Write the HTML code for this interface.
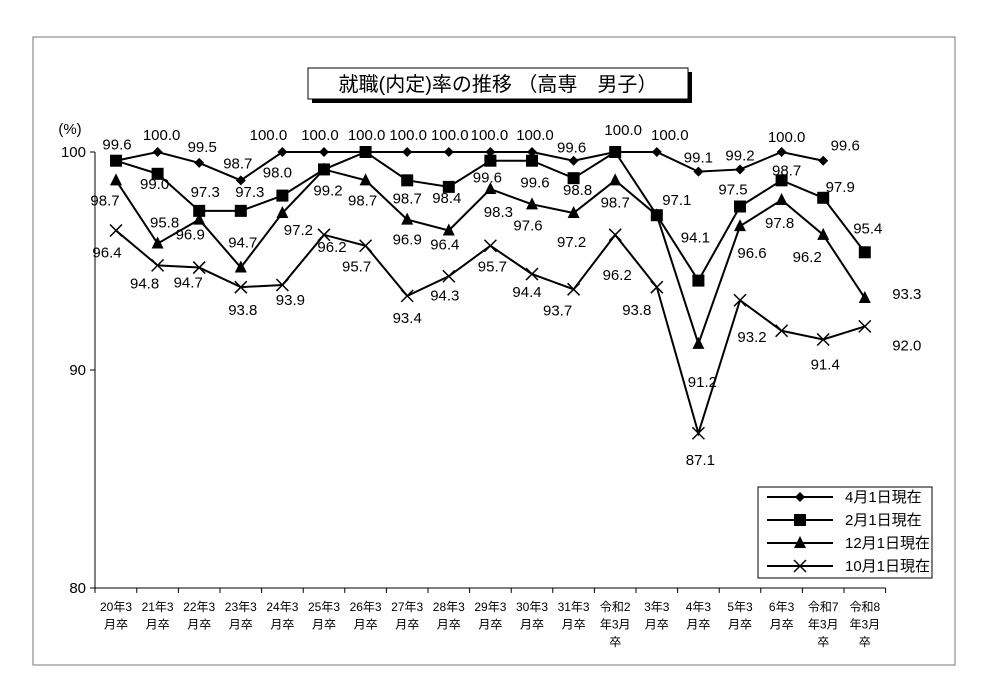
<!DOCTYPE html>
<html><head><meta charset="utf-8"><style>
body{margin:0;background:#fff;}
svg{display:block;font-family:"Liberation Sans","Noto Sans CJK JP",sans-serif;}
</style></head><body>
<svg width="986" height="691" viewBox="0 0 986 691" id="chart">
<rect x="33" y="37" width="922" height="628" fill="#fff" stroke="#777" stroke-width="1"/>
<rect x="312" y="72" width="380" height="31" fill="#000"/>
<rect x="308" y="68" width="380" height="31" fill="#fff" stroke="#000" stroke-width="1"/>
<text x="498" y="91" font-size="20" text-anchor="middle">就職(内定)率の推移 （高専　男子）</text>
<text x="70" y="134" font-size="15" text-anchor="middle">(%)</text>
<g id="axes"></g><g id="series"></g><g id="labels"></g>
<g>
<rect x="758" y="487" width="174" height="91" fill="#fff" stroke="#000"/>
<g id="legend"></g>
</g>
</svg>
<script>
const categories=[["20年3","月卒"],["21年3","月卒"],["22年3","月卒"],["23年3","月卒"],["24年3","月卒"],["25年3","月卒"],["26年3","月卒"],["27年3","月卒"],["28年3","月卒"],["29年3","月卒"],["30年3","月卒"],["31年3","月卒"],["令和2","年3月","卒"],["3年3","月卒"],["4年3","月卒"],["5年3","月卒"],["6年3","月卒"],["令和7","年3月","卒"],["令和8","年3月","卒"]];
const seriesNames=["4月1日現在","2月1日現在","12月1日現在","10月1日現在"];
const apr=[99.6,100.0,99.5,98.7,100.0,100.0,100.0,100.0,100.0,100.0,100.0,99.6,100.0,100.0,99.1,99.2,100.0,99.6];
const feb=[99.6,99.0,97.3,97.3,98.0,99.2,100.0,98.7,98.4,99.6,99.6,98.8,100.0,97.1,94.1,97.5,98.7,97.9,95.4];
const dec=[98.7,95.8,96.9,94.7,97.2,99.2,98.7,96.9,96.4,98.3,97.6,97.2,98.7,97.1,91.2,96.6,97.8,96.2,93.3];
const oct=[96.4,94.8,94.7,93.8,93.9,96.2,95.7,93.4,94.3,95.7,94.4,93.7,96.2,93.8,87.1,93.2,91.8,91.4,92.0];
const yTicks=[80,90,100];
const series=[apr,feb,dec,oct];
// label offsets [series, index, dx, dy]
const labelOffsets=[
[0,0,1,-16],[0,1,4,-17],[0,2,3,-16],[0,3,-3,-17],[0,4,-14,-17],[0,5,-4,-17],[0,6,1,-17],[0,7,1,-17],[0,8,1,-17],[0,9,-1,-17],[0,10,3,-17],[0,11,-2,-13],[0,12,8,-22],[0,13,13,-17],[0,14,0,-14],[0,15,0,-14],[0,16,5,-15],[0,17,22,-15],
[1,1,-3,10],[1,2,6,-19],[1,3,9,-19],[1,4,-5,-23],[1,5,4,21],[1,7,0,18],[1,8,-2,11],[1,9,-3,17],[1,10,3,22],[1,11,4,12],[1,13,20,-15],[1,14,-3,-43],[1,15,-7,-17],[1,16,5,-10],[1,17,17,-11],[1,18,3,-24],
[2,0,-11,20],[2,1,7,-21],[2,2,-9,15],[2,3,2,-25],[2,4,16,17],[2,6,-3,20],[2,7,0,20],[2,8,-4,14],[2,9,8,23],[2,10,-4,21],[2,11,-2,29],[2,12,0,22],[2,14,4,38],[2,15,12,27],[2,16,-2,23],[2,17,-16,22],[2,18,42,-4],
[3,0,-9,22],[3,1,-13,18],[3,2,-11,15],[3,3,2,23],[3,4,8,15],[3,5,8,12],[3,6,-9,21],[3,7,0,22],[3,8,-4,19],[3,9,2,21],[3,10,-5,18],[3,11,-16,21],[3,12,2,40],[3,13,-20,23],[3,14,2,27],[3,15,12,37],[3,17,2,25],[3,18,42,19]];
const NS="http://www.w3.org/2000/svg";
const X0=116,DX=41.6,Y100=152,PPU=21.8;
const xs=i=>X0+i*DX, ys=v=>Y100+(100-v)*PPU;
function mk(t,a,p){const e=document.createElementNS(NS,t);for(const k in a)e.setAttribute(k,a[k]);p.appendChild(e);return e;}
const axes=document.getElementById('axes');
mk('line',{x1:95,y1:ys(100),x2:95,y2:ys(80),stroke:'#000'},axes);
const xEnd=X0+(categories.length-0.5)*DX;
mk('line',{x1:95,y1:ys(80),x2:xEnd,y2:ys(80),stroke:'#000'},axes);
yTicks.forEach(t=>{
 mk('line',{x1:90,y1:ys(t),x2:95,y2:ys(t),stroke:'#000'},axes);
 const tx=mk('text',{x:86,y:ys(t)+5,'font-size':15,'text-anchor':'end'},axes);tx.textContent=t;
 
 
});
categories.forEach((c,i)=>{
 const bx=X0+(i+0.5)*DX;
 mk('line',{x1:bx,y1:ys(80),x2:bx,y2:ys(80)+5,stroke:'#000'},axes);
 c.forEach((ln,j)=>{const t=mk('text',{x:xs(i),y:611+j*17.5,'font-size':12,'text-anchor':'middle'},axes);t.textContent=ln;
 
 });
});
mk('line',{x1:95,y1:ys(80),x2:95,y2:ys(80)+5,stroke:'#000'},axes);
function marker(k,x,y,g){
 if(k===0)mk('polygon',{points:`${x},${y-5} ${x+5},${y} ${x},${y+5} ${x-5},${y}`,fill:'#000'},g);
 else if(k===1)mk('rect',{x:x-6,y:y-6,width:12,height:12,fill:'#000'},g);
 else if(k===2)mk('polygon',{points:`${x},${y-7} ${x+6},${y+5} ${x-6},${y+5}`,fill:'#000'},g);
 else {mk('path',{d:`M${x-6},${y-6}L${x+6},${y+6}M${x+6},${y-6}L${x-6},${y+6}`,stroke:'#000','stroke-width':1.5,fill:'none'},g);}
}
const sg=document.getElementById('series');
series.forEach((arr,k)=>{
 const g=mk('g',{},sg);
 
 
 mk('polyline',{points:arr.map((v,i)=>xs(i)+','+ys(v)).join(' '),fill:'none',stroke:'#000','stroke-width':2},g);
 arr.forEach((v,i)=>marker(k,xs(i),ys(v),g));
});
const lg=document.getElementById('labels');
labelOffsets.forEach(([s,i,dx,dy])=>{
 const v=series[s][i];
 const t=mk('text',{x:xs(i)+dx,y:ys(v)+dy+5,'font-size':15,'text-anchor':'middle'},lg);
 t.textContent=v.toFixed(1);
 
 
});
const leg=document.getElementById('legend');
seriesNames.forEach((n,k)=>{
 const y=497+k*23;
 const g=mk('g',{},leg);
 
 
 mk('line',{x1:767,y1:y,x2:833,y2:y,stroke:'#000','stroke-width':2},g);
 marker(k,800,y,g);
 const t=mk('text',{x:845,y:y+5,'font-size':15},g);t.textContent=n;
});
</script>
</body></html>
